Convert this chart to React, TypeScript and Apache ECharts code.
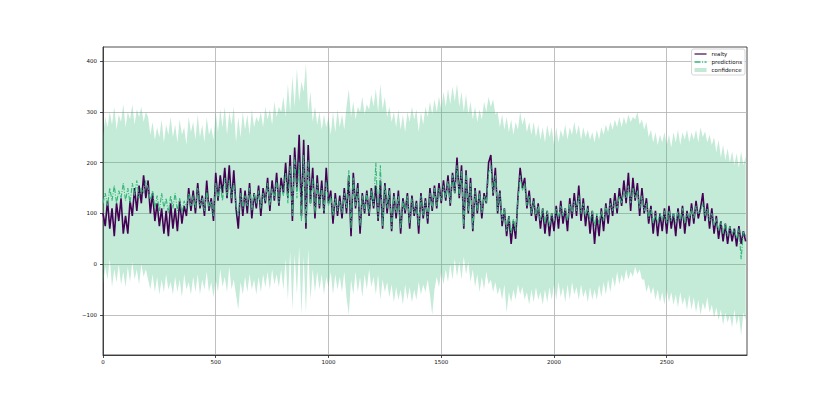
import React, { useEffect, useRef } from "react";
import * as echarts from "echarts";

const STEP = 10;

const realty = [
  100, 75, 125, 70, 110, 55, 120, 85, 130, 60,
  95, 60, 125, 95, 150, 105, 155, 120, 175, 130,
  165, 100, 140, 85, 120, 75, 110, 60, 105, 55,
  120, 70, 110, 65, 125, 80, 115, 95, 150, 105,
  145, 100, 160, 110, 135, 95, 165, 105, 130, 85,
  180, 125, 175, 140, 190, 130, 195, 120, 185, 110,
  70, 150, 95, 145, 100, 160, 90, 140, 110, 155,
  95, 150, 120, 170, 105, 165, 125, 180, 115, 170,
  140, 200, 130, 215, 85, 230, 150, 255, 95, 245,
  70, 235, 120, 190, 90, 175, 110, 165, 100, 190,
  120, 145, 80, 140, 95, 135, 90, 150, 100, 175,
  55, 180, 110, 160, 60, 140, 100, 145, 95, 150,
  110, 155, 85, 165, 70, 160, 100, 150, 65, 140,
  90, 145, 60, 130, 100, 140, 70, 135, 95, 125,
  60, 140, 90, 130, 80, 150, 105, 155, 110, 160,
  120, 165, 125, 175, 115, 180, 140, 210, 130, 195,
  70, 185, 100, 170, 65, 150, 100, 145, 90, 140,
  120, 200, 215, 135, 190, 100, 145, 75, 110, 55,
  95, 40, 85, 50, 130, 190, 150, 170, 110, 145,
  95, 130, 85, 120, 70, 110, 60, 105, 55, 100,
  65, 115, 70, 125, 80, 110, 65, 130, 90, 140,
  95, 155, 85, 130, 75, 115, 60, 105, 40, 95,
  55, 110, 65, 120, 80, 130, 95, 140, 100, 150,
  115, 165, 120, 180, 105, 170, 125, 160, 95, 150,
  100, 130, 80, 115, 60, 105, 55, 100, 65, 110,
  60, 115, 70, 100, 55, 110, 70, 115, 60, 105,
  75, 120, 80, 125, 90, 110, 140, 85, 120, 70,
  110, 60, 95, 50, 85, 45, 80, 40, 75, 45,
  70, 35, 75, 40, 65, 45,
];

const predictions = [
  120, 140, 115, 150, 125, 155, 120, 145, 130, 160,
  125, 150, 120, 160, 135, 165, 130, 150, 140, 165,
  150, 125, 145, 110, 135, 105, 140, 110, 130, 100,
  135, 110, 140, 105, 130, 100, 125, 110, 140, 115,
  135, 110, 150, 115, 130, 105, 145, 110, 125, 95,
  160, 130, 155, 125, 170, 135, 165, 130, 160, 115,
  95, 140, 110, 135, 115, 150, 105, 140, 120, 145,
  110, 140, 125, 160, 115, 150, 130, 165, 120, 155,
  135, 180, 120, 195, 95, 210, 130, 200, 85, 215,
  80, 205, 115, 170, 100, 160, 115, 150, 105, 165,
  115, 135, 95, 130, 105, 125, 100, 140, 110, 185,
  70, 170, 115, 150, 75, 135, 105, 140, 100, 145,
  115, 200, 90, 195, 75, 155, 110, 145, 70, 135,
  100, 135, 70, 125, 105, 135, 80, 130, 100, 120,
  75, 135, 95, 125, 90, 140, 110, 150, 115, 150,
  125, 155, 130, 165, 120, 175, 140, 195, 135, 185,
  75, 180, 105, 160, 70, 145, 105, 140, 100, 135,
  120, 180, 195, 140, 175, 105, 140, 85, 110, 65,
  95, 60, 90, 65, 125, 175, 145, 160, 115, 135,
  100, 125, 95, 115, 85, 110, 80, 105, 75, 100,
  85, 110, 90, 115, 95, 110, 85, 120, 100, 125,
  105, 135, 100, 120, 95, 110, 85, 105, 75, 100,
  80, 105, 85, 115, 95, 120, 105, 125, 110, 135,
  120, 145, 130, 155, 120, 150, 130, 145, 110, 135,
  105, 120, 90, 110, 80, 100, 80, 100, 85, 105,
  80, 105, 85, 100, 80, 105, 85, 110, 80, 100,
  90, 110, 90, 115, 100, 105, 120, 95, 110, 85,
  100, 75, 90, 65, 85, 60, 80, 55, 75, 60,
  70, 50, 70, 10, 65, 55,
];

const upper = [
  250, 290, 270, 300, 275, 310, 265, 295, 280, 315,
  270, 300, 285, 315, 275, 305, 290, 310, 280, 300,
  290, 255, 280, 245, 270, 250, 285, 240, 275, 255,
  290, 250, 275, 240, 285, 255, 270, 235, 290, 260,
  280, 245, 295, 250, 275, 240, 290, 255, 270, 245,
  300, 260, 305, 270, 310, 255, 300, 275, 310, 240,
  290, 250, 300, 265, 295, 255, 305, 270, 290, 280,
  300, 270, 310, 285, 305, 275, 320, 290, 310, 300,
  330, 290, 355, 300, 370, 310, 385, 320, 360, 340,
  395, 300, 340, 280, 310, 275, 300, 265, 295, 270,
  290, 255, 300, 260, 305, 270, 295, 265, 310, 345,
  290, 320, 285, 310, 300, 330, 295, 315, 305, 335,
  310, 345, 300, 355, 305, 330, 290, 310, 280, 300,
  270, 305, 265, 295, 260, 300, 280, 310, 285, 305,
  260, 300, 275, 310, 290, 320, 295, 325, 300, 330,
  305, 340, 310, 345, 315, 350, 320, 355, 310, 340,
  300, 335, 295, 320, 285, 310, 280, 305, 285, 320,
  300, 330, 310, 325, 295, 300, 270, 295, 265, 290,
  260, 285, 255, 280, 265, 300, 275, 290, 260, 280,
  255, 280, 250, 275, 245, 270, 240, 275, 250, 270,
  235, 270, 240, 265, 250, 275, 245, 270, 255, 280,
  255, 275, 245, 270, 250, 265, 245, 260, 240, 265,
  245, 270, 255, 275, 260, 280, 265, 285, 270, 290,
  270, 290, 275, 295, 280, 290, 285, 300, 275, 285,
  265, 280, 250, 265, 240, 260, 235, 255, 240, 260,
  235, 255, 230, 260, 240, 265, 235, 260, 245, 265,
  240, 260, 245, 265, 240, 270, 250, 262, 240, 255,
  235, 250, 220, 245, 210, 235, 205, 228, 200, 222,
  195, 218, 190, 222, 195, 212,
];

const lower = [
  -40, -5, -30, 10, -45, -10, -35, 0, -40, -15,
  -45, -5, -35, 5, -30, -10, -40, 0, -25, -10,
  -30, -50, -20, -55, -25, -60, -30, -55, -20, -50,
  -35, -60, -25, -55, -30, -65, -20, -50, -35, -60,
  -25, -55, -20, -60, -30, -50, -15, -55, -35, -65,
  -30, -55, -10, -45, -25, -55, -5, -50, -30, -60,
  -90, -35, -60, -25, -55, -20, -50, -30, -60, -25,
  -55, -20, -45, -15, -50, -10, -40, -20, -45, -10,
  -50, 10, -70, 25, -90, 20, -60, 35, -100, 15,
  -95, 30, -70, -10, -55, -15, -50, -20, -60, -25,
  -45, -15, -60, -20, -50, -25, -55, -15, -65, -100,
  -30, -60, -15, -55, -25, -65, -20, -50, -10, -45,
  -25, -60, -20, -70, -30, -55, -35, -65, -40, -75,
  -45, -70, -50, -80, -40, -70, -45, -75, -50, -70,
  -35, -60, -40, -55, -30, -60, -100, -50, -25, -45,
  -15, -40, -10, -35, 0, -30, 10, -25, 5, -30,
  15, -20, 5, -35, -10, -45, -20, -55, -25, -50,
  -15, -40, -30, -55, -35, -60, -45, -70, -40, -95,
  -55, -75, -50, -70, -40, -60, -45, -70, -55, -80,
  -50, -75, -45, -70, -55, -80, -50, -75, -45, -70,
  -40, -70, -35, -65, -45, -75, -40, -70, -35, -60,
  -45, -70, -40, -65, -50, -75, -45, -70, -50, -70,
  -40, -65, -35, -60, -30, -55, -25, -45, -15, -40,
  -20, -35, -10, -30, -15, -25, -5, -20, -10, -30,
  -30, -55, -40, -60, -45, -70, -50, -75, -55, -80,
  -50, -75, -55, -80, -60, -85, -55, -80, -65, -90,
  -60, -90, -65, -95, -70, -100, -75, -90, -65, -95,
  -80, -105, -85, -110, -90, -120, -95, -115, -100, -125,
  -90, -120, -100, -140, -95, -110,
];

const xTicks = [0, 500, 1000, 1500, 2000, 2500];
const yTicks = [-100, 0, 100, 200, 300, 400];
const X_MAX = 2856;
const Y_MIN = -179;
const Y_MAX = 428;

const PURPLE = "#440154";
const GREEN = "#35b779";
const BAND = "rgba(53,183,121,0.29)";
const FONT = "DejaVu Sans";

export default function App() {
  const ref = useRef<HTMLDivElement>(null);

  useEffect(() => {
    if (!ref.current) return;
    const chart = echarts.init(ref.current, null, { renderer: "svg" });
    const xs = realty.map((_, i) => i * STEP);

    const axisLabelCommon = {
      color: "#111",
      fontSize: 5.5,
      fontFamily: FONT,
    };

    const bandRender = (params: any, api: any) => {
      const pts: number[][] = [];
      for (let i = 0; i < xs.length; i++) pts.push(api.coord([xs[i], upper[i]]));
      for (let i = xs.length - 1; i >= 0; i--) pts.push(api.coord([xs[i], lower[i]]));
      const cs = params.coordSys;
      return {
        type: "polygon",
        shape: { points: pts },
        style: { fill: BAND, stroke: "none" },
        clipPath: {
          type: "rect",
          shape: { x: cs.x, y: cs.y, width: cs.width, height: cs.height },
        },
        silent: true,
      };
    };

    chart.setOption({
      animation: false,
      backgroundColor: "#fff",
      grid: {
        left: 103,
        right: 83,
        top: 47,
        bottom: 44,
        show: true,
        borderColor: "#222",
        borderWidth: 0.8,
        backgroundColor: "transparent",
      },
      legend: {
        orient: "vertical",
        right: 85,
        top: 49,
        itemWidth: 12,
        itemHeight: 4,
        itemGap: 2,
        padding: [2, 3, 2, 3],
        borderColor: "#cccccc",
        borderWidth: 0.8,
        borderRadius: 2,
        backgroundColor: "rgba(255,255,255,0.8)",
        textStyle: { fontSize: 5.5, fontFamily: FONT, color: "#111" },
        data: [
          { name: "realty", icon: "path://M0,0H12V2H0Z", itemStyle: { color: "#8a6b98" } },
          {
            name: "predictions",
            icon: "path://M0,0H6V1.6H0Z M7.5,0H8.6V1.6H7.5Z M10,0H12V1.6H10Z",
            itemStyle: { color: GREEN },
          },
          { name: "confidence", icon: "rect", itemStyle: { color: "#c3e9d6" } },
        ],
      },
      xAxis: {
        type: "value",
        min: 0,
        max: X_MAX,
        axisLine: { show: true, onZero: false, lineStyle: { color: "#222", width: 0.8 } },
        axisTick: {
          show: true,
          length: 3,
          inside: false,
          lineStyle: { color: "#222", width: 0.8 },
          customValues: xTicks,
        },
        axisLabel: {
          ...axisLabelCommon,
          margin: 4,
          customValues: xTicks,
          formatter: (v: number) => String(v),
        },
        splitLine: { show: true, lineStyle: { color: "#b0b0b0", width: 0.8 } },
      },
      yAxis: {
        type: "value",
        min: Y_MIN,
        max: Y_MAX,
        axisLine: { show: true, onZero: false, lineStyle: { color: "#222", width: 0.8 } },
        axisTick: {
          show: true,
          length: 3,
          inside: false,
          lineStyle: { color: "#222", width: 0.8 },
          customValues: yTicks,
        },
        axisLabel: {
          ...axisLabelCommon,
          margin: 6,
          customValues: yTicks,
          formatter: (v: number) => (v < 0 ? "\u2212" + Math.abs(v) : String(v)),
        },
        splitLine: { show: true, lineStyle: { color: "#b0b0b0", width: 0.8 } },
      },
      series: [
        {
          name: "confidence",
          type: "custom",
          renderItem: bandRender,
          data: [[0, 0]],
          color: "#c3e9d6",
          silent: true,
          z: 1,
        },
        {
          name: "realty",
          type: "line",
          symbol: "none",
          color: PURPLE,
          lineStyle: { color: PURPLE, width: 1.6 },
          data: xs.map((x, i) => [x, realty[i]]),
          z: 2,
        },
        {
          name: "predictions",
          type: "line",
          symbol: "none",
          color: GREEN,
          lineStyle: { color: GREEN, width: 1.1, type: [5, 1.5, 1, 1.5] },
          data: xs.map((x, i) => [x, predictions[i]]),
          z: 3,
        },
      ],
    });

    return () => chart.dispose();
  }, []);

  return (
    <div
      ref={ref}
      style={{ position: "fixed", left: 0, top: 0, width: 830, height: 399 }}
    />
  );
}
